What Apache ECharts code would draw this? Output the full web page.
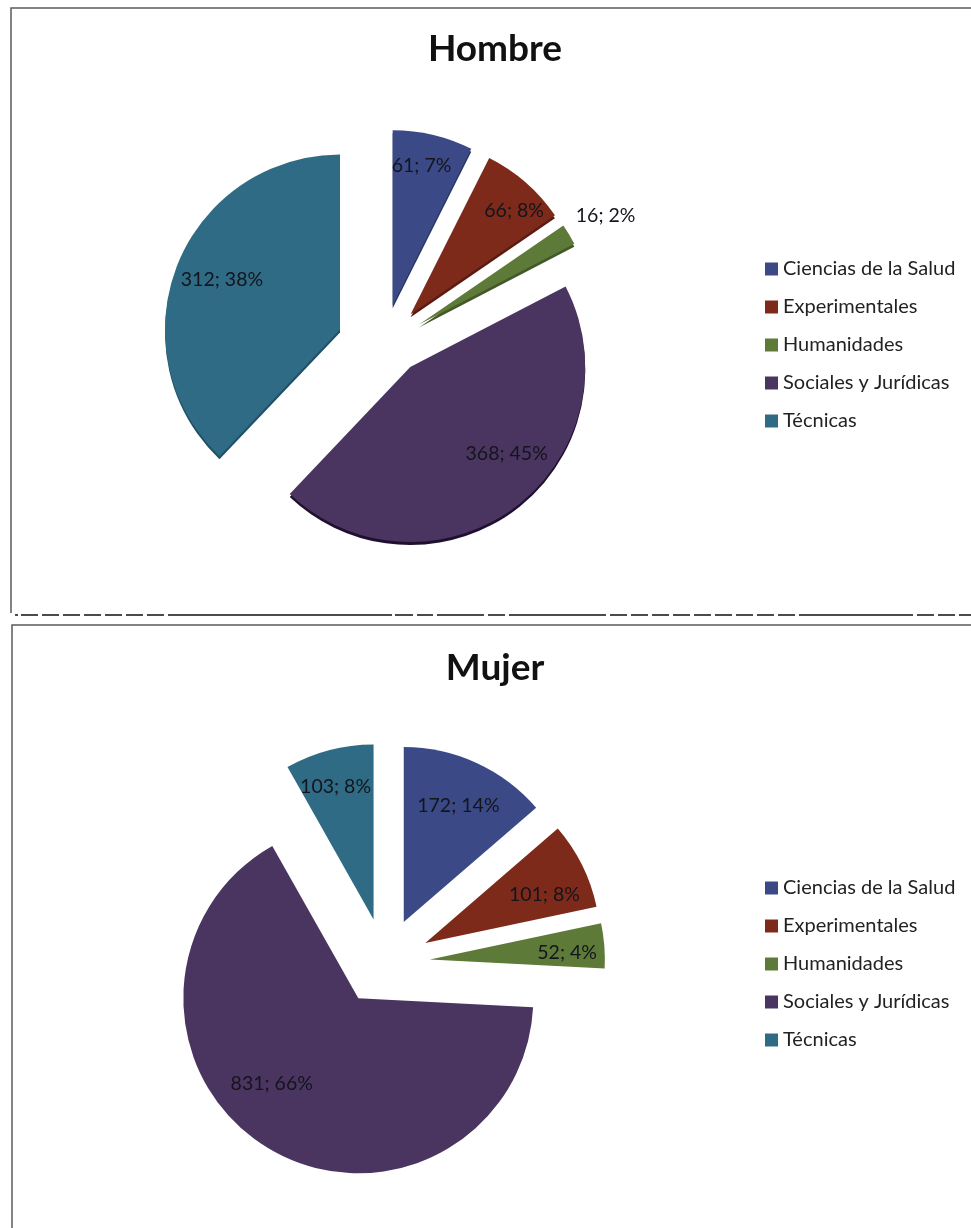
<!DOCTYPE html>
<html>
<head>
<meta charset="utf-8">
<title>Hombre / Mujer</title>
<script src="https://cdn.jsdelivr.net/npm/echarts@6/dist/echarts.min.js"></script>
<style>
  html, body { margin: 0; background: #fff; }
  #chart { width: 971px; height: 1228px; }
</style>
</head>
<body>
<div id="chart"></div>
<script>
const categories = ['Ciencias de la Salud', 'Experimentales', 'Humanidades', 'Sociales y Jurídicas', 'Técnicas']
const hombreValues = [61, 66, 16, 368, 312]
const mujerValues = [172, 101, 52, 831, 103]

const colors = ['#3b4a86', '#7e2a1b', '#5e7a38', '#4a3560', '#2f6b84']
const rimColors = ['#2a3563', '#5a1c10', '#44592a', '#1f1030', '#1f5066']

// label nudges from the default inside spot
const hombreNudge = [[8, -51], [44, -35], [109, -62], [42, 14], [-34, -16]]
const mujerNudge = [[17, -34], [38, -8], [47, 0], [-39, 8], [-15, -45]]

const font = 'Lato'

// pie has one selectedOffset per series, so a slice that pulls out by a
// different amount goes in its own series, the other slices left blank
function pieSeries(name, values, center, offset, radius, nudge, rim, shown) {
  return {
    name: name,
    type: 'pie',
    center: center,
    radius: [0, radius],
    startAngle: 90,
    clockwise: true,
    animation: false,
    selectedMode: 'multiple',
    selectedOffset: offset,
    percentPrecision: 0,
    emphasis: { scale: false },
    label: {
      position: 'inside',
      formatter: '{c}; {d}%',
      fontFamily: font,
      fontSize: 19.5,
      color: '#14141c'
    },
    labelLine: { show: false },
    labelLayout: params => ({ dx: nudge[params.dataIndex][0], dy: nudge[params.dataIndex][1] }),
    data: values.map((v, i) => {
      const on = shown.includes(i)
      return {
        name: categories[i],
        value: v,
        selected: true,
        label: { show: on },
        itemStyle: {
          color: on ? colors[i] : 'rgba(0,0,0,0)',
          shadowColor: on && rim ? rimColors[i] : 'rgba(0,0,0,0)',
          shadowBlur: 0,
          shadowOffsetY: rim ? 3 : 0
        }
      }
    })
  }
}

function legendAt(top) {
  return {
    orient: 'vertical',
    left: 760,
    top: top,
    icon: 'rect',
    itemWidth: 13,
    itemHeight: 13,
    itemGap: 18,
    selectedMode: false,
    data: categories.map((c, i) => ({ name: c, itemStyle: { color: colors[i] } })),
    textStyle: { fontFamily: font, fontSize: 20, color: '#222' }
  }
}

function titleAt(text, top) {
  return {
    text: text,
    left: 490,
    top: top,
    textAlign: 'center',
    textStyle: { fontFamily: font, fontSize: 37, fontWeight: 'bold', color: '#111' }
  }
}

const frameStyle = { stroke: '#5f5a58', lineWidth: 1.5 }
const tearDash = [17, 4, 17, 4, 17, 4, 17, 4, 17, 4, 17, 4, 17, 4, 224, 3, 18, 4, 16, 4, 47, 4, 17, 4, 97, 4,
  17, 4, 17, 4, 17, 4, 17, 4, 17, 4, 17, 4, 17, 4, 17, 4, 17, 4, 114, 4, 17, 4, 17, 4, 12, 10]

const myChart = echarts.init(document.getElementById('chart'))
myChart.setOption({
  backgroundColor: '#fff',
  title: [titleAt('Hombre', 26), titleAt('Mujer', 645)],
  legend: [legendAt(254), legendAt(873)],
  series: [
    pieSeries('Hombre', hombreValues, [383, 346], 42, 175, hombreNudge, true, [0, 1, 2]),
    pieSeries('Hombre', hombreValues, [385, 333.5], 42, 175, hombreNudge, true, [3]),
    pieSeries('Hombre', hombreValues, [379, 345], 42, 175, hombreNudge, true, [4]),
    pieSeries('Mujer', mujerValues, [385, 963], 45, 175, mujerNudge, false, [0, 1, 2, 4]),
    pieSeries('Mujer', mujerValues, [382, 960], 45, 175, mujerNudge, false, [3])
  ],
  graphic: [
    { type: 'polyline', silent: true, shape: { points: [[11, 613], [11, 8], [971, 8]] }, style: { ...frameStyle, fill: null } },
    { type: 'polyline', silent: true, shape: { points: [[12, 1228], [12, 625], [971, 625]] }, style: { ...frameStyle, fill: null } },
    { type: 'line', silent: true, shape: { x1: 21, y1: 615, x2: 971, y2: 615 }, style: { stroke: '#111', lineWidth: 1.5, lineDash: tearDash } },
    { type: 'line', silent: true, shape: { x1: 15, y1: 615, x2: 18, y2: 615 }, style: { stroke: '#111', lineWidth: 1.5 } }
  ]
})
</script>
</body>
</html>
